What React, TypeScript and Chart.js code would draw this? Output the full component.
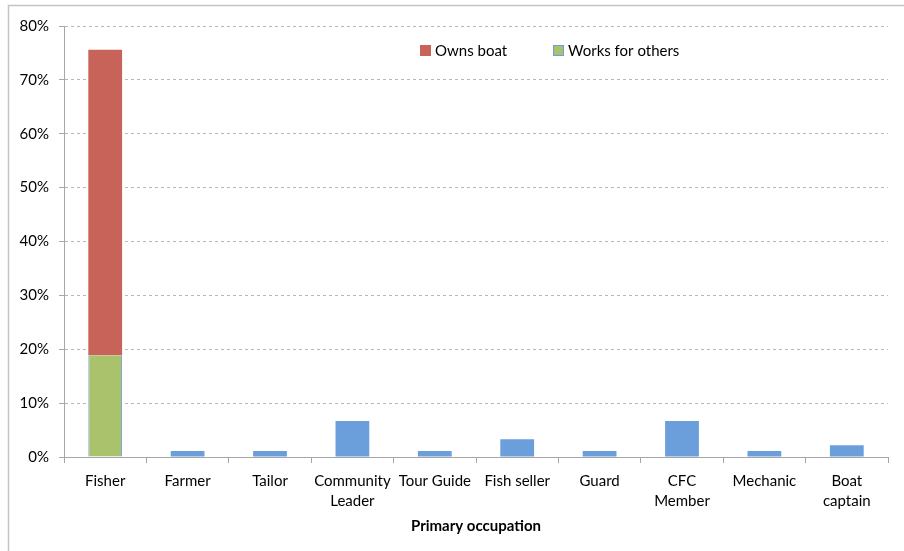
import React, { useEffect, useRef } from "react";
import { Chart, registerables } from "chart.js";

Chart.register(...registerables);

const categories: (string | string[])[] = [
  "Fisher",
  "Farmer",
  "Tailor",
  ["Community", "Leader"],
  "Tour Guide",
  "Fish seller",
  "Guard",
  ["CFC", "Member"],
  "Mechanic",
  ["Boat", "captain"],
];

const worksForOthers = [18.9, null, null, null, null, null, null, null, null, null];
const ownsBoat = [56.7, null, null, null, null, null, null, null, null, null];
const otherOccupations = [null, 1.1, 1.1, 6.7, 1.1, 3.3, 1.1, 6.7, 1.1, 2.2];

const yTicks = [0, 10, 20, 30, 40, 50, 60, 70, 80];

const FONT = "Lato, 'Open Sans', sans-serif";
const RED = "#C8635A";
const GREEN = "#A9C26B";
const BLUE = "#6A9FDC";

const frameAndLegend = {
  id: "frameAndLegend",
  beforeDraw(chart: any) {
    const ctx = chart.ctx;
    ctx.save();
    ctx.strokeStyle = "#c4c4c4";
    ctx.lineWidth = 1.5;
    ctx.strokeRect(8.5, 5.5, 1200, 1200);
    ctx.restore();
  },
  afterDraw(chart: any) {
    const ctx = chart.ctx;
    const ds = chart.data.datasets;
    const items = [
      { label: ds[1].label, fill: RED, stroke: RED, x: 420 },
      { label: ds[0].label, fill: GREEN, stroke: BLUE, x: 553 },
    ];
    ctx.save();
    ctx.font = `15px ${FONT}`;
    ctx.textBaseline = "middle";
    ctx.fillStyle = "#000";
    for (const it of items) {
      ctx.fillStyle = it.fill;
      ctx.fillRect(it.x, 45, 11, 11);
      if (it.stroke !== it.fill) {
        ctx.strokeStyle = it.stroke;
        ctx.lineWidth = 1;
        ctx.strokeRect(it.x + 0.5, 45.5, 10, 10);
      }
      ctx.fillStyle = "#000";
      ctx.fillText(it.label, it.x + 15, 51);
    }
    ctx.restore();
  },
};

export default function App() {
  const ref = useRef<HTMLCanvasElement | null>(null);

  useEffect(() => {
    if (!ref.current) return;
    const chart = new Chart(ref.current, {
      type: "bar",
      data: {
        labels: categories as any,
        datasets: [
          {
            label: "Works for others",
            data: worksForOthers as any,
            backgroundColor: GREEN,
            borderColor: BLUE,
            borderWidth: { left: 1, right: 1, top: 0, bottom: 0 } as any,
            barPercentage: 0.41,
            categoryPercentage: 1,
          },
          {
            label: "Owns boat",
            data: ownsBoat as any,
            backgroundColor: RED,
            borderWidth: 0,
            barPercentage: 0.41,
            categoryPercentage: 1,
          },
          {
            label: "Other",
            data: otherOccupations as any,
            backgroundColor: BLUE,
            borderWidth: 0,
            barPercentage: 0.41,
            categoryPercentage: 1,
          },
        ],
      },
      options: {
        responsive: false,
        animation: false,
        layout: { padding: { left: 0, right: 16, top: 26, bottom: 0 } },
        plugins: {
          legend: { display: false },
          tooltip: { enabled: false },
        },
        scales: {
          x: {
            stacked: true,
            grid: {
              display: true,
              drawOnChartArea: false,
              drawTicks: true,
              tickLength: 6,
              color: "#a6a6a6",
              offset: true,
            },
            border: { display: true, color: "#a6a6a6", width: 1 },
            ticks: {
              color: "#000",
              font: { family: FONT, size: 15, lineHeight: 1.33 } as any,
              padding: 8,
              maxRotation: 0,
              autoSkip: false,
            },
            title: {
              display: true,
              text: "Primary occupation",
              color: "#000",
              font: { family: FONT, size: 15, weight: "bold" } as any,
              padding: { top: 4, bottom: 16 },
            },
            afterFit: (s: any) => {
              s.height = 94;
            },
          },
          y: {
            stacked: true,
            min: 0,
            max: 80,
            afterBuildTicks: (s: any) => {
              s.ticks = yTicks.map((v) => ({ value: v }));
            },
            grid: {
              color: "#b8b8b8",
              tickLength: 5,
              tickColor: "#a6a6a6",
              tickBorderDash: [],
            } as any,
            border: { display: true, color: "#a6a6a6", width: 1, dash: [3, 3] },
            ticks: {
              color: "#000",
              font: { family: FONT, size: 15 },
              padding: 10,
              callback: (v: any) => `${v}%`,
            },
            afterFit: (s: any) => {
              s.width = 64;
            },
          },
        },
      },
      plugins: [frameAndLegend],
    });
    return () => chart.destroy();
  }, []);

  return (
    <div style={{ position: "absolute", left: 0, top: 0, width: 904, height: 551, background: "#fff" }}>
      <canvas ref={ref} width={904} height={551} style={{ display: "block" }} />
    </div>
  );
}
